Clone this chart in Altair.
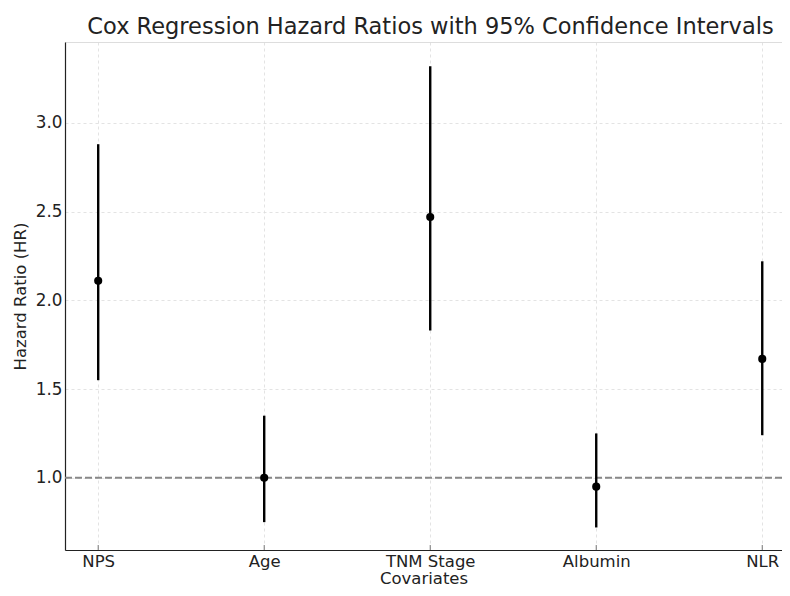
import altair as alt
import pandas as pd

covariates = ["NPS", "Age", "TNM Stage", "Albumin", "NLR"]
hazard_ratio = [2.11, 1.00, 2.47, 0.95, 1.67]
ci_lower = [1.55, 0.75, 1.83, 0.72, 1.24]
ci_upper = [2.88, 1.35, 3.32, 1.25, 2.22]
y_ticks = [1.0, 1.5, 2.0, 2.5, 3.0]
reference_hr = [1.0]

df = pd.DataFrame({
    "idx": list(range(len(covariates))),
    "Covariate": covariates,
    "HR": hazard_ratio,
    "Lower": ci_lower,
    "Upper": ci_upper,
})
ref = pd.DataFrame({"ref": reference_hr})

FONT = "DejaVu Sans"
W, H = 717, 508
label_expr = "[" + ",".join("'" + c + "'" for c in covariates) + "][datum.value]"

x_scale = alt.Scale(domain=[-0.2, 4.119], nice=False, zero=False)
y_scale = alt.Scale(domain=[0.593, 3.456], nice=False, zero=False)

x_axis = alt.Axis(
    title="Covariates", values=list(range(len(covariates))), labelExpr=label_expr,
    grid=True, gridDash=[3, 3], gridColor="#dcdcdc", gridWidth=0.8,
    domainColor="#222222", domainWidth=1.2, ticks=False,
    labelFont=FONT, labelFontSize=16.5, labelColor="#222222", labelPadding=3,
    titleFont=FONT, titleFontSize=16.5, titleFontWeight="normal", titleColor="#222222",
    titlePadding=1,
)
y_axis = alt.Axis(
    title="Hazard Ratio (HR)", values=y_ticks, format=".1f",
    grid=True, gridDash=[3, 3], gridColor="#dcdcdc", gridWidth=0.8,
    domainColor="#222222", domainWidth=1.2, ticks=False,
    labelFont=FONT, labelFontSize=16.8, labelColor="#222222", labelPadding=3,
    titleFont=FONT, titleFontSize=16.5, titleFontWeight="normal", titleColor="#222222",
    titlePadding=7,
)

base = alt.Chart(df)

inner_ticks = base.mark_rule(color="#777777", strokeWidth=1).encode(
    x=alt.X("idx:Q", scale=x_scale),
    y=alt.value(H),
    y2=alt.value(H - 5),
)

bars = base.mark_rule(color="black", strokeWidth=2.4).encode(
    x=alt.X("idx:Q", scale=x_scale, axis=x_axis),
    y=alt.Y("Lower:Q", scale=y_scale, axis=y_axis),
    y2="Upper:Q",
)

points = base.mark_circle(color="black", opacity=1, size=66).encode(
    x=alt.X("idx:Q", scale=x_scale),
    y=alt.Y("HR:Q", scale=y_scale),
)

refline = alt.Chart(ref).mark_rule(color="#888888", strokeWidth=2, strokeDash=[7, 3]).encode(
    y=alt.Y("ref:Q", scale=y_scale),
)

chart = alt.layer(refline, inner_ticks, bars, points).properties(
    width=W,
    height=H,
    title=alt.TitleParams(
        "Cox Regression Hazard Ratios with 95% Confidence Intervals",
        font=FONT, fontSize=22.5, fontWeight="normal", color="#222222", offset=4, dx=7,
    ),
    autosize=alt.AutoSizeParams(type="none"),
    padding={"left": 57, "top": 34, "right": 0, "bottom": 38},
).configure_view(stroke=None).configure(background="white")

chart.save("out.html", embed_options={"renderer": "svg", "actions": False})
